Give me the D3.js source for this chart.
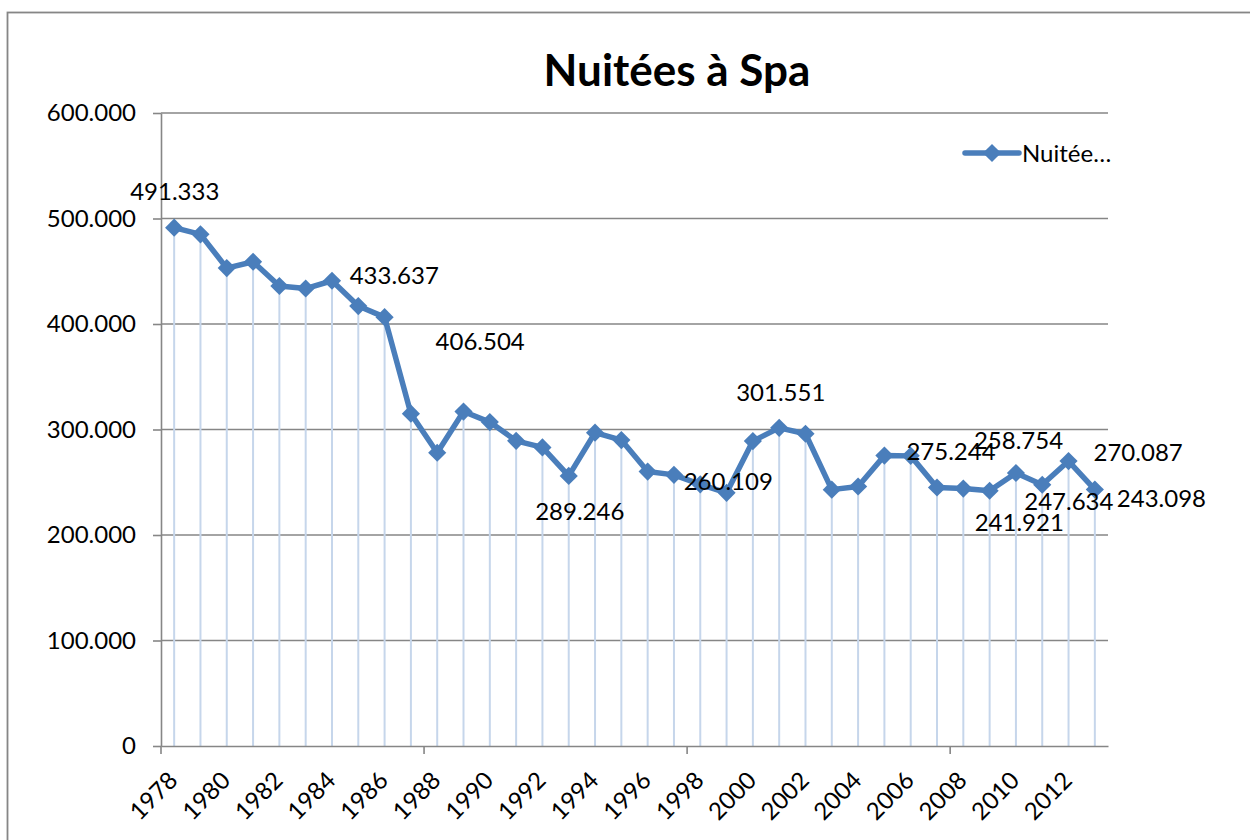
<!DOCTYPE html>
<html lang="fr">
<head>
<meta charset="utf-8">
<title>Nuitées à Spa</title>
<script src="https://d3js.org/d3.v7.min.js"></script>
<style>
  body{margin:0;background:#fff;font-family:Lato, "Liberation Sans", sans-serif;}
  .axis path{stroke:#868686;stroke-width:1.6px;}
  .axis line{stroke:#868686;stroke-width:1.6px;}
  .axis text{font-family:Lato, sans-serif;font-size:24px;fill:#000;}
</style>
</head>
<body>
<div id="chart"></div>
<script>
// data
var years = d3.range(1978, 2014)
var nuitees = [491333, 485000, 453000, 459000, 436000, 433637, 441000, 417000, 406504, 315000,
               278000, 317000, 307000, 289246, 283000, 256000, 297000, 290000, 260109, 257000,
               248000, 240000, 289000, 301551, 296000, 243000, 246000, 275244, 275000, 245000,
               244000, 241921, 258754, 247634, 270087, 243098]
var yTicks = [0, 100000, 200000, 300000, 400000, 500000, 600000]
var labelYears = [1978, 1983, 1986, 1991, 1996, 2001, 2005, 2009, 2010, 2011, 2012, 2013]
var seriesName = "Nuitée…"
var chartTitle = "Nuitées à Spa"

// where each data label sits relative to its point (dx = left edge, dy = middle)
var labelOffsets = {
  1978:[-44,-36], 1983:[44,-13], 1986:[51,24], 1991:[19,71], 1996:[36,10], 2001:[-43,-36],
  2005:[22,-4], 2009:[-15,32], 2010:[-42,-33], 2011:[-18,17], 2012:[25,-9], 2013:[22,9]
}

var W = 1250, H = 840
var plotLeft = 161, plotRight = 1108, plotTop = 113, plotBottom = 746
var blue = "#4a7ebb"

var fr = d3.formatLocale({decimal:",", thousands:".", grouping:[3], currency:["","€"]})
var fmt = fr.format(",d")

var data = years.map(function(y, i){ return {year:y, value:nuitees[i]} })

var svg = d3.select("#chart").append("svg")
    .attr("width", W).attr("height", H)

// outer frame
svg.append("rect")
    .attr("x", 7.5).attr("y", 12.5)
    .attr("width", W + 20).attr("height", H + 20)
    .attr("fill", "none").attr("stroke", "#868686").attr("stroke-width", 1.8)

var x = d3.scaleBand().domain(years).range([plotLeft, plotRight]).padding(0)
var y = d3.scaleLinear().domain([0, 600000]).range([plotBottom, plotTop])
var cx = function(d){ return x(d.year) + x.bandwidth() / 2 }

// gridlines
svg.append("g").selectAll("line")
    .data(yTicks.slice(1))
    .enter().append("line")
    .attr("x1", plotLeft).attr("x2", plotRight)
    .attr("y1", function(d){ return y(d) }).attr("y2", function(d){ return y(d) })
    .attr("stroke", "#868686").attr("stroke-width", 1.6)

// y axis
svg.append("g")
    .attr("class", "axis")
    .attr("transform", "translate(" + plotLeft + ",0)")
    .call(d3.axisLeft(y).tickValues(yTicks).tickFormat(fmt).tickSize(8).tickSizeOuter(0).tickPadding(17))

// drop lines
svg.append("g").selectAll("line")
    .data(data)
    .enter().append("line")
    .attr("x1", cx).attr("x2", cx)
    .attr("y1", function(d){ return y(d.value) }).attr("y2", plotBottom)
    .attr("stroke", "#c6d6eb").attr("stroke-width", 2)

// x axis
var xAxis = svg.append("g")
    .attr("class", "axis")
    .attr("transform", "translate(0," + plotBottom + ")")
    .call(d3.axisBottom(x).tickSize(0).tickSizeOuter(0)
        .tickFormat(function(d, i){ return i % 2 == 0 ? d : "" }))
xAxis.selectAll("text")
    .attr("text-anchor", "end")
    .attr("transform", "translate(5,36) rotate(-45)")
    .attr("dy", 0).attr("y", 0).attr("x", 0)

// tick marks every 10 categories
svg.append("g").selectAll("line")
    .data(years.filter(function(d, i){ return i % 10 == 0 }))
    .enter().append("line")
    .attr("x1", function(d){ return x(d) }).attr("x2", function(d){ return x(d) })
    .attr("y1", plotBottom).attr("y2", plotBottom + 8)
    .attr("stroke", "#868686").attr("stroke-width", 1.6)

// line + markers
var line = d3.line().x(cx).y(function(d){ return y(d.value) })
svg.append("path")
    .datum(data)
    .attr("d", line)
    .attr("fill", "none")
    .attr("stroke", blue)
    .attr("stroke-width", 5.5)
    .attr("stroke-linejoin", "round")

var diamond = d3.symbol().type(d3.symbolSquare).size(165)
svg.append("g").selectAll("path")
    .data(data)
    .enter().append("path")
    .attr("d", diamond)
    .attr("transform", function(d){ return "translate(" + cx(d) + "," + y(d.value) + ") rotate(45)" })
    .attr("fill", blue)

// data labels
svg.append("g").selectAll("text")
    .data(data.filter(function(d){ return labelYears.indexOf(d.year) != -1 }))
    .enter().append("text")
    .attr("x", function(d){ return cx(d) + labelOffsets[d.year][0] })
    .attr("y", function(d){ return y(d.value) + labelOffsets[d.year][1] })
    .attr("dy", "0.36em")
    .attr("font-size", 24)
    .text(function(d){ return fmt(d.value) })

// title
svg.append("text")
    .attr("x", 677).attr("y", 86)
    .attr("text-anchor", "middle")
    .attr("font-size", 44).attr("font-weight", "bold")
    .text(chartTitle)

// legend
var lg = svg.append("g").attr("transform", "translate(965,153)")
lg.append("line").attr("x1", 0).attr("x2", 54).attr("stroke", blue).attr("stroke-width", 5.5).attr("stroke-linecap", "round")
lg.append("path").attr("d", diamond).attr("transform", "translate(27,0) rotate(45)").attr("fill", blue)
lg.append("text").attr("x", 57).attr("dy", "0.36em").attr("font-size", 24).text(seriesName)
</script>
</body>
</html>
